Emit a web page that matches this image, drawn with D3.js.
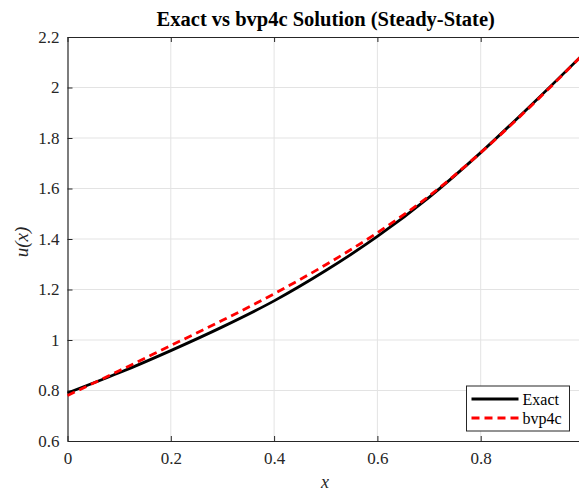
<!DOCTYPE html>
<html>
<head>
<meta charset="utf-8">
<script src="https://cdn.jsdelivr.net/npm/d3@7"></script>
<style>
  html, body { margin: 0; padding: 0; background: #fff; overflow: hidden; }
  svg { display: block; }
  text { font-family: "Liberation Serif", "Times New Roman", serif; }
</style>
</head>
<body>
<svg id="chart" width="579" height="492"></svg>
<script>
// Sample positions along the domain
const xValues = [0, 0.1, 0.2, 0.3, 0.4, 0.5, 0.6, 0.7, 0.8, 0.9, 1.0];
// Analytic steady-state solution
const exactValues = [0.790, 0.870, 0.958, 1.052, 1.155, 1.275, 1.410, 1.565, 1.742, 1.935, 2.135];
// Numerical solution from bvp4c
const bvp4cValues = [0.780, 0.878, 0.978, 1.078, 1.183, 1.298, 1.425, 1.570, 1.742, 1.932, 2.135];

const xTicks = [0, 0.2, 0.4, 0.6, 0.8, 1];
const yTicks = [0.6, 0.8, 1, 1.2, 1.4, 1.6, 1.8, 2, 2.2];
const seriesNames = ["Exact", "bvp4c"];

const svg = d3.select("#chart");
const plotLeft = 67.5, plotRight = 584, plotTop = 37, plotBottom = 441;
const serif = "'Liberation Serif', 'Times New Roman', serif";

const x = d3.scaleLinear().domain([0, 1]).range([plotLeft, plotRight]);
const y = d3.scaleLinear().domain([0.6, 2.2]).range([plotBottom, plotTop]);

const axisColor = "#262626";
const gridColor = "#e3e3e3";

// Grid
const grid = svg.append("g");
grid.selectAll(".gx").data(xTicks.slice(1, -1)).join("line")
  .attr("x1", d => x(d)).attr("x2", d => x(d))
  .attr("y1", plotTop).attr("y2", plotBottom)
  .attr("stroke", gridColor).attr("stroke-width", 1);
grid.selectAll(".gy").data(yTicks.slice(1, -1)).join("line")
  .attr("x1", plotLeft).attr("x2", plotRight)
  .attr("y1", d => y(d)).attr("y2", d => y(d))
  .attr("stroke", gridColor).attr("stroke-width", 1);

// Axes (ticks pointing inward, box on all sides)
function styleAxis(g) {
  g.attr("font-family", serif).attr("font-size", 17);
  g.select(".domain").attr("stroke", axisColor).attr("stroke-width", 1.2);
  g.selectAll(".tick line").attr("stroke", axisColor).attr("stroke-width", 1);
  g.selectAll(".tick text").attr("fill", axisColor)
    .style("font-family", serif).style("font-size", "17px");
}
const fmt = d => d3.format("")(d);

svg.append("g").attr("transform", `translate(0,${plotBottom})`)
  .call(d3.axisBottom(x).tickValues(xTicks.slice(0, -1)).tickSize(-5).tickSizeOuter(0).tickPadding(11).tickFormat(fmt))
  .call(styleAxis);
svg.append("g").attr("transform", `translate(0,${plotTop})`)
  .call(d3.axisTop(x).tickValues(xTicks).tickSize(-5).tickSizeOuter(0).tickFormat(""))
  .call(styleAxis);
svg.append("g").attr("transform", `translate(${plotLeft},0)`)
  .call(d3.axisLeft(y).tickValues(yTicks).tickSize(-5).tickSizeOuter(0).tickPadding(8).tickFormat(fmt))
  .call(styleAxis);
svg.append("g").attr("transform", `translate(${plotRight},0)`)
  .call(d3.axisRight(y).tickValues(yTicks).tickSize(-5).tickSizeOuter(0).tickFormat(""))
  .call(styleAxis);

// Curves
const line = d3.line().curve(d3.curveMonotoneX);
const exactPts = xValues.map((v, i) => [x(v), y(exactValues[i])]);
const bvpPts = xValues.map((v, i) => [x(v), y(bvp4cValues[i])]);

svg.append("path").attr("d", line(exactPts))
  .attr("fill", "none").attr("stroke", "#000").attr("stroke-width", 2.8);
svg.append("path").attr("d", line(bvpPts))
  .attr("fill", "none").attr("stroke", "#ff0000").attr("stroke-width", 2.8)
  .attr("stroke-dasharray", "8,5");

// Title and axis labels
svg.append("text").attr("x", (plotLeft + plotRight) / 2).attr("y", 26)
  .attr("text-anchor", "middle").attr("font-weight", "bold").attr("font-size", 20.5)
  .attr("fill", "#000").text("Exact vs bvp4c Solution (Steady-State)");

svg.append("text").attr("x", 325).attr("y", 488)
  .attr("text-anchor", "middle").attr("font-style", "italic").attr("font-size", 18)
  .attr("fill", axisColor).text("x");

svg.append("text").attr("transform", "translate(28,242) rotate(-90)")
  .attr("text-anchor", "middle").attr("font-style", "italic").attr("font-size", 19)
  .attr("fill", axisColor).text("u(x)");

// Legend
const lg = svg.append("g").attr("transform", "translate(466.5,386)");
lg.append("rect").attr("width", 103).attr("height", 45)
  .attr("fill", "#fff").attr("stroke", axisColor).attr("stroke-width", 1);
const legendStyles = [
  { color: "#000", dash: null },
  { color: "#ff0000", dash: "8,5" }
];
seriesNames.forEach((name, i) => {
  const yy = 13 + i * 19;
  lg.append("line").attr("x1", 5).attr("x2", 52).attr("y1", yy).attr("y2", yy)
    .attr("stroke", legendStyles[i].color).attr("stroke-width", 2.8)
    .attr("stroke-dasharray", legendStyles[i].dash);
  lg.append("text").attr("x", 56).attr("y", yy + 5.5)
    .attr("font-size", 16).attr("fill", "#000").text(name);
});
</script>
</body>
</html>
